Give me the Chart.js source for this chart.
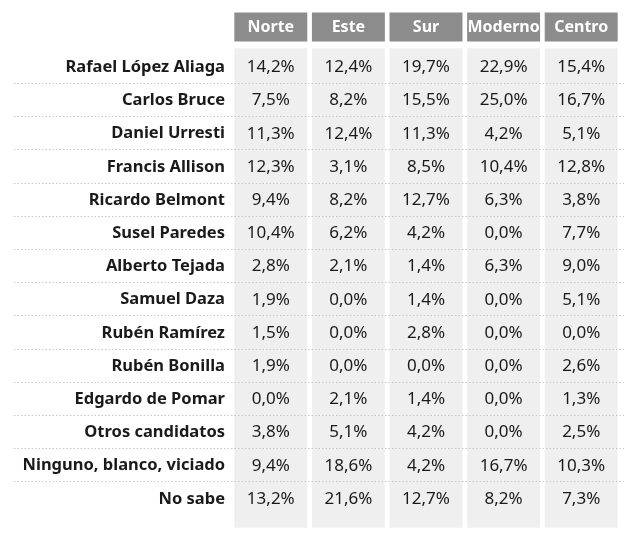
<!DOCTYPE html>
<html>
<head>
<meta charset="utf-8">
<script src="https://cdn.jsdelivr.net/npm/chart.js@4/dist/chart.umd.min.js"></script>
<style>body{margin:0;background:#fff}</style>
</head>
<body>
<canvas id="c" width="640" height="551"></canvas>
<script>
const regiones = ['Norte', 'Este', 'Sur', 'Moderno', 'Centro'];
const candidatos = ['Rafael López Aliaga', 'Carlos Bruce', 'Daniel Urresti', 'Francis Allison', 'Ricardo Belmont',
  'Susel Paredes', 'Alberto Tejada', 'Samuel Daza', 'Rubén Ramírez', 'Rubén Bonilla', 'Edgardo de Pomar',
  'Otros candidatos', 'Ninguno, blanco, viciado', 'No sabe'];
const norte = [14.2, 7.5, 11.3, 12.3, 9.4, 10.4, 2.8, 1.9, 1.5, 1.9, 0.0, 3.8, 9.4, 13.2];
const este = [12.4, 8.2, 12.4, 3.1, 8.2, 6.2, 2.1, 0.0, 0.0, 0.0, 2.1, 5.1, 18.6, 21.6];
const sur = [19.7, 15.5, 11.3, 8.5, 12.7, 4.2, 1.4, 1.4, 2.8, 0.0, 1.4, 4.2, 4.2, 12.7];
const moderno = [22.9, 25.0, 4.2, 10.4, 6.3, 0.0, 6.3, 0.0, 0.0, 0.0, 0.0, 0.0, 16.7, 8.2];
const centro = [15.4, 16.7, 5.1, 12.8, 3.8, 7.7, 9.0, 5.1, 0.0, 2.6, 1.3, 2.5, 10.3, 7.3];
const columnas = [norte, este, sur, moderno, centro];

const fmt = v => v.toFixed(1).replace('.', ',') + '%';

const tablePlugin = {
  id: 'table',
  afterDatasetsDraw(chart) {
    const ctx = chart.ctx, xs = chart.scales.x, ys = chart.scales.y;
    ctx.save();
    // dotted row separators
    ctx.strokeStyle = '#c8c8c8';
    ctx.setLineDash([1.5, 2]);
    ctx.lineWidth = 1;
    for (let r = 0; r < candidatos.length - 1; r++) {
      const y = Math.round(ys.getPixelForValue(r + 0.5)) + 0.5;
      ctx.beginPath(); ctx.moveTo(14, y); ctx.lineTo(624, y); ctx.stroke();
    }
    ctx.setLineDash([]);
    ctx.textBaseline = 'middle';
    // headers
    ctx.fillStyle = '#fff';
    ctx.font = 'bold 16px "Noto Sans"';
    ctx.textAlign = 'center';
    regiones.forEach((r, i) => ctx.fillText(r, xs.getPixelForValue(i), ys.getPixelForValue(-1.18)));
    // row labels
    ctx.fillStyle = '#1a1a1a';
    ctx.textAlign = 'right';
    ctx.font = 'bold 16.5px "Noto Sans"';
    candidatos.forEach((c, r) => ctx.fillText(c, 225, ys.getPixelForValue(r) + 1));
    // values
    ctx.font = '17px "Noto Sans"';
    ctx.textAlign = 'center';
    columnas.forEach((col, i) => col.forEach((v, r) =>
      ctx.fillText(fmt(v), xs.getPixelForValue(i), ys.getPixelForValue(r) + 1)));
    ctx.restore();
  }
};

new Chart(document.getElementById('c'), {
  type: 'bar',
  data: {
    labels: regiones,
    datasets: [
      { data: regiones.map(() => [-0.55, 13.9]), backgroundColor: '#efefef', barPercentage: 0.94, categoryPercentage: 1, grouped: false },
      { data: regiones.map(() => [-1.62, -0.75]), backgroundColor: '#8c8c8c', barPercentage: 0.94, categoryPercentage: 1, grouped: false }
    ]
  },
  options: {
    responsive: false,
    animation: false,
    layout: { padding: { left: 232, right: 20, top: 0, bottom: 0 } },
    plugins: { legend: { display: false }, tooltip: { enabled: false } },
    scales: {
      x: { display: false },
      y: { display: false, reverse: true, min: -2.0, max: 14.6 }
    }
  },
  plugins: [tablePlugin]
});
</script>
</body>
</html>
